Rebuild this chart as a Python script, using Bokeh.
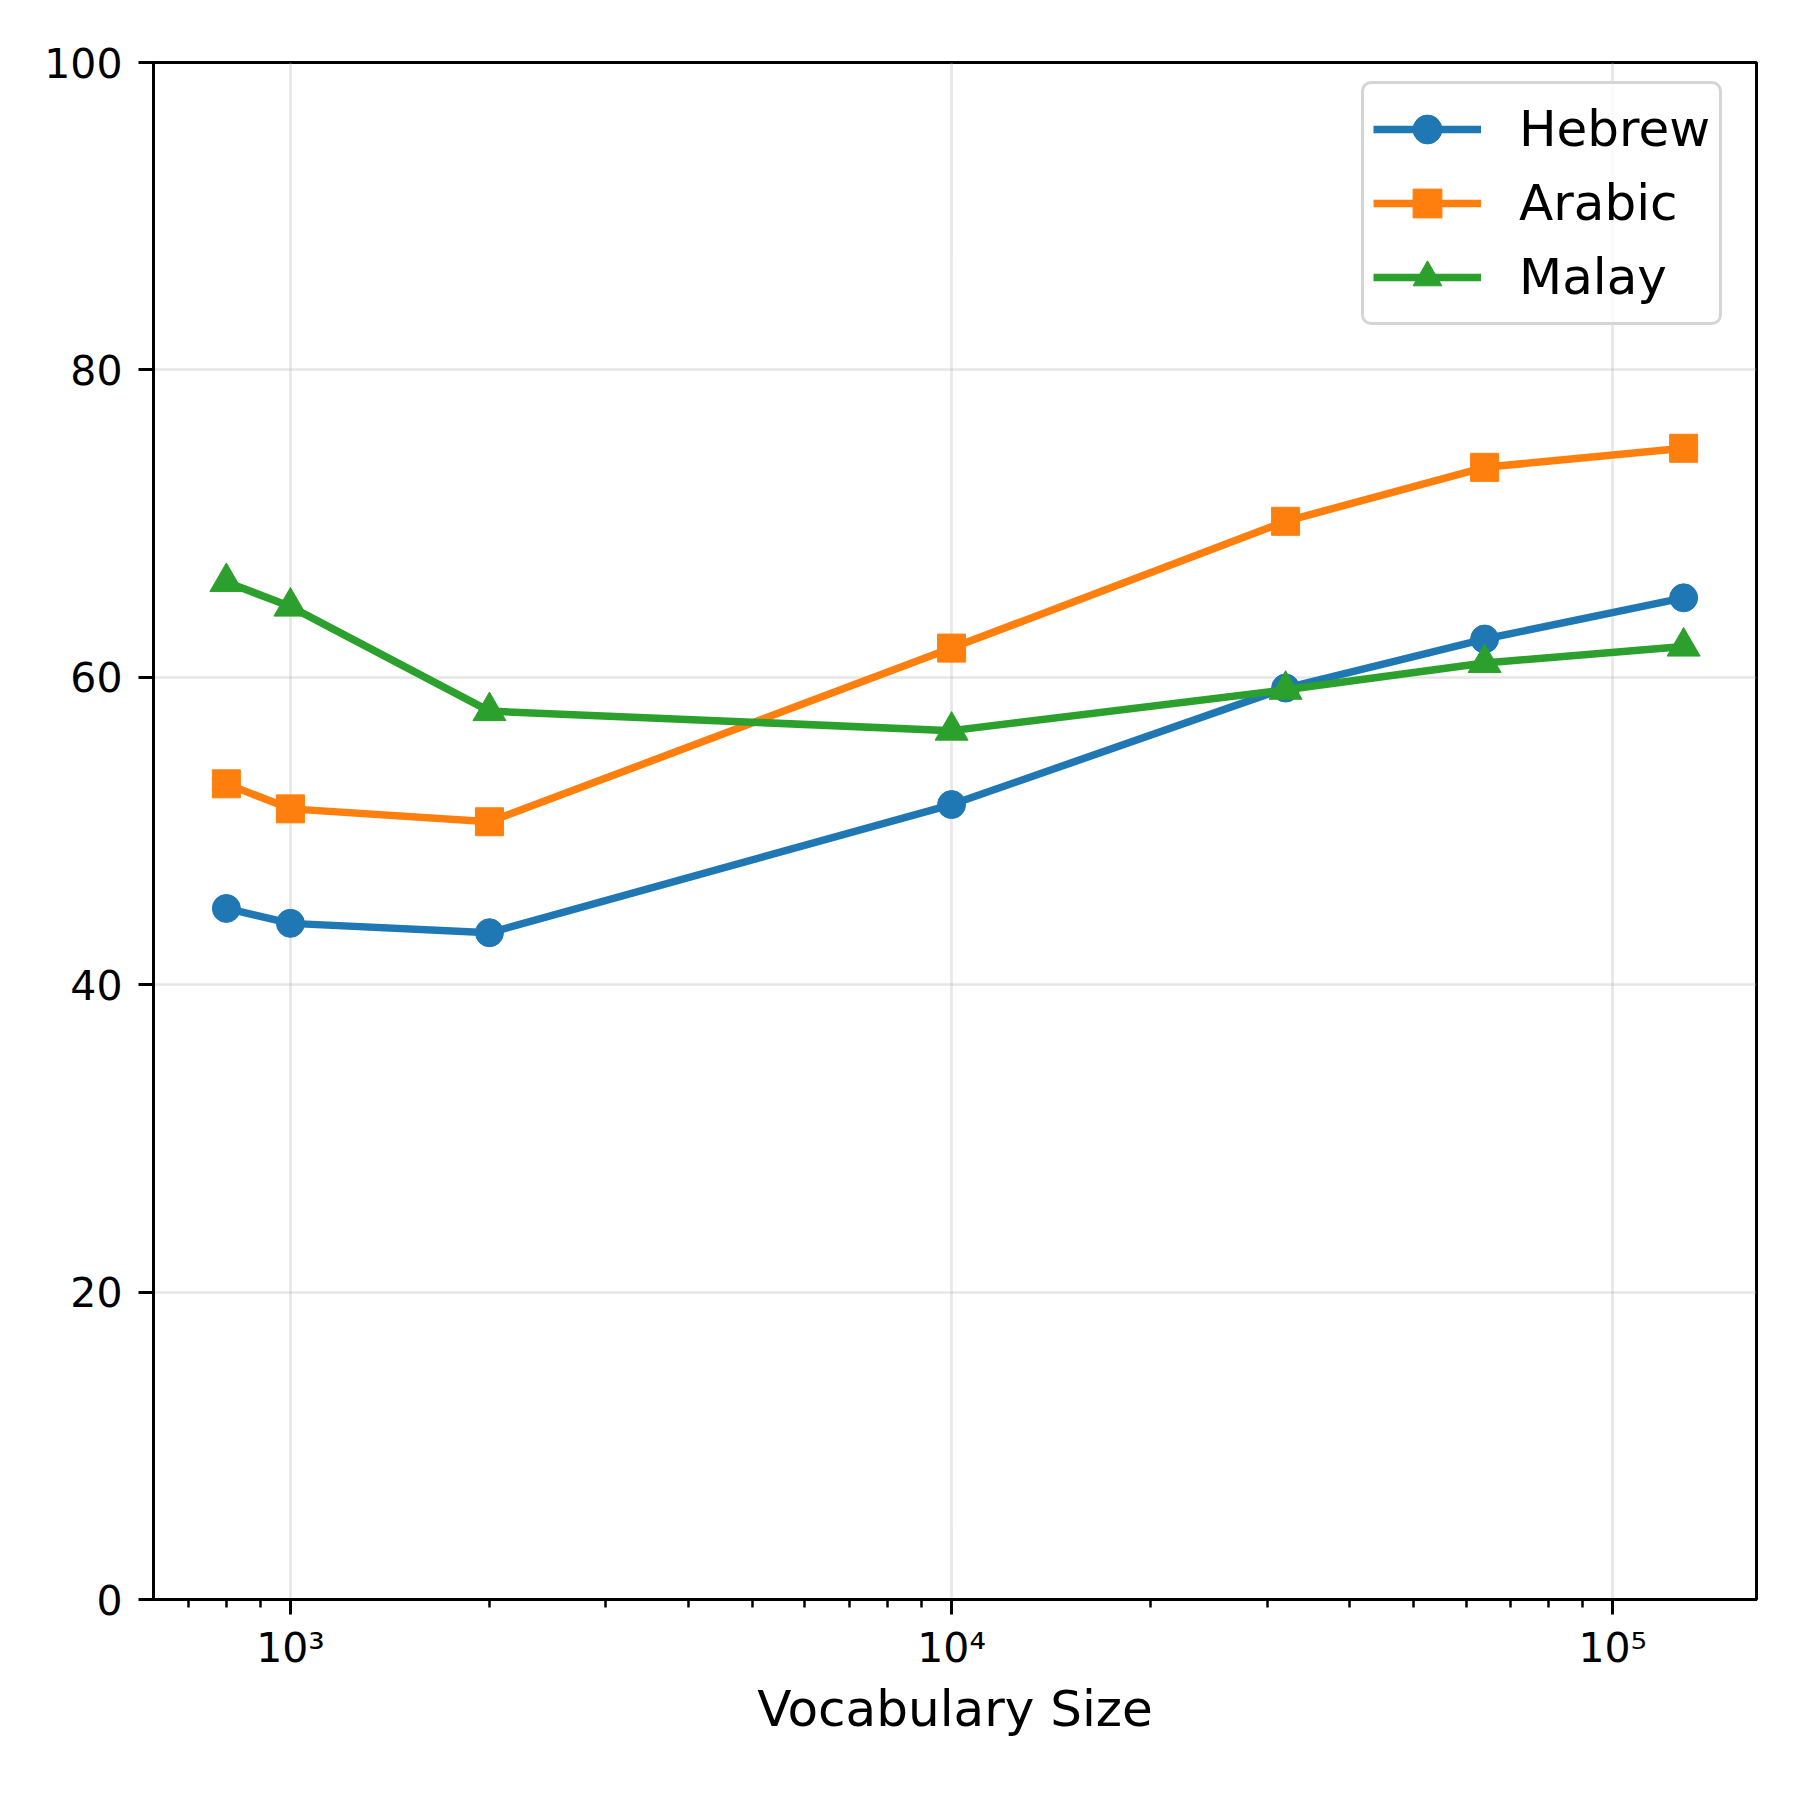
from bokeh.plotting import figure
from bokeh.models import FixedTicker, Legend, LegendItem, Range1d
from bokeh.embed import file_html
from bokeh.resources import INLINE
import math

# ---- data ----
vocab_sizes = [800, 1000, 2000, 10000, 32000, 64000, 128000]
hebrew = [44.96, 43.99, 43.38, 51.72, 59.3, 62.49, 65.17]
arabic = [53.07, 51.44, 50.6, 61.9, 70.15, 73.66, 74.9]
malay = [66.2, 64.6, 57.8, 56.53, 59.19, 60.93, 62.0]
series_names = ["Hebrew", "Arabic", "Malay"]
y_ticks = [0, 20, 40, 60, 80, 100]
x_major_ticks = [1000, 10000, 100000]
x_tick_labels = {1000: "10³", 10000: "10⁴", 100000: "10⁵"}

colors = ["#1f77b4", "#ff7f0e", "#2ca02c"]
markers = ["circle", "square", "triangle"]
msizes = [28, 28, 33]

lo = math.log10(min(vocab_sizes))
hi = math.log10(max(vocab_sizes))
pad = 0.05 * (hi - lo)

p = figure(
    x_axis_type="log",
    output_backend="svg",
    toolbar_location=None,
    frame_width=1603,
    frame_height=1537,
    min_border_left=153,
    min_border_right=44,
    min_border_top=62,
    min_border_bottom=200,
    x_range=Range1d(10 ** (lo - pad), 10 ** (hi + pad)),
    y_range=Range1d(0, 100),
)
p.background_fill_color = "white"
p.border_fill_color = "white"
p.outline_line_color = "black"
p.outline_line_width = 3

FONT = "DejaVu Sans"

for ax in (p.xaxis[0], p.yaxis[0]):
    ax.axis_line_width = 3
    ax.axis_line_color = "black"
    ax.major_tick_line_width = 3
    ax.minor_tick_line_width = 2.5
    ax.major_tick_out = 15
    ax.major_tick_in = 0
    ax.minor_tick_out = 8
    ax.minor_tick_in = 0
    ax.major_label_text_font = FONT
    ax.major_label_text_font_size = "41px"
    ax.major_label_text_color = "black"

p.xaxis.major_label_standoff = 9
p.yaxis.major_label_standoff = 16

p.xaxis.ticker = FixedTicker(
    ticks=x_major_ticks,
    minor_ticks=[m * 10 ** e for e in (2, 3, 4, 5) for m in range(2, 10)],
)
p.xaxis.major_label_overrides = x_tick_labels
p.xaxis.axis_label = "Vocabulary Size"
p.xaxis.axis_label_text_font = FONT
p.xaxis.axis_label_text_font_size = "50px"
p.xaxis.axis_label_text_font_style = "normal"
p.xaxis.axis_label_text_color = "black"
p.xaxis.axis_label_standoff = 5

p.yaxis.ticker = FixedTicker(ticks=y_ticks, minor_ticks=[])

p.xgrid.ticker = FixedTicker(ticks=x_major_ticks)
for g in (p.xgrid[0], p.ygrid[0]):
    g.grid_line_color = "#b0b0b0"
    g.grid_line_alpha = 0.3
    g.grid_line_width = 2.7

items = []
for name, ys, c, m, s in zip(series_names, [hebrew, arabic, malay], colors, markers, msizes):
    r1 = p.line(vocab_sizes, ys, line_color=c, line_width=7.5)
    r2 = p.scatter(vocab_sizes, ys, marker=m, size=s, fill_color=c, line_color=c, line_width=1)
    items.append(LegendItem(label=name, renderers=[r1, r2]))

legend = Legend(
    items=items,
    location=(1208, 1274),
    margin=0,
    padding=9,
    spacing=2,
    glyph_width=108,
    glyph_height=72,
    label_height=50,
    label_standoff=38,
    label_text_font=FONT,
    label_text_font_size="50px",
    label_text_color="black",
    border_line_color="#d5d5d5",
    border_line_width=3,
    border_line_alpha=1.0,
    background_fill_color="white",
    background_fill_alpha=0.8,
)
if "border_radius" in Legend.properties():
    legend.border_radius = 10
p.add_layout(legend, "center")

open("out.html", "w").write(file_html(p, INLINE))
